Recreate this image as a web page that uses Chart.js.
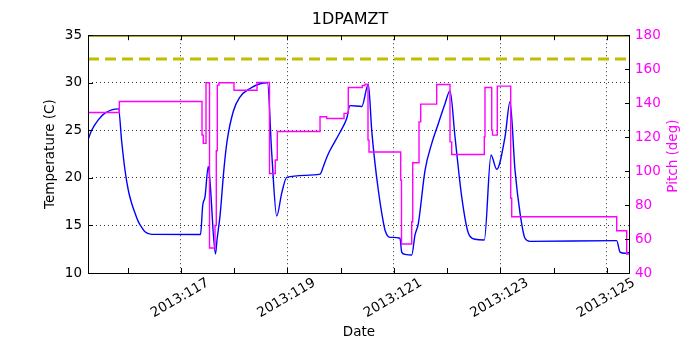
<!DOCTYPE html>
<html>
<head>
<meta charset="utf-8">
<script src="https://cdn.jsdelivr.net/npm/chart.js@4/dist/chart.umd.min.js"></script>
<style>
  body { margin: 0; background: #fff; }
</style>
</head>
<body>
<canvas id="chart" width="700" height="350"></canvas>
<script>
// x values are fractional day-of-year 2013
const xMin = 115.254, xMax = 125.432;
const dayTicks = [116, 117, 118, 119, 120, 121, 122, 123, 124, 125];
const dayLabels = ["", "2013:117", "", "2013:119", "", "2013:121", "", "2013:123", "", "2013:125"];

const tempDays = [115.254, 115.323, 115.447, 115.573, 115.827, 115.887, 115.949, 116.011, 116.075, 116.137,
  116.199, 116.262, 116.324, 116.450,
  117.367, 117.408, 117.451, 117.513, 117.545, 117.648, 117.677, 117.733, 117.808, 117.864, 117.983,
  118.108, 118.296, 118.484, 118.625, 118.704, 118.798, 118.892, 118.986, 119.611, 119.674, 119.737,
  119.799, 119.987, 120.112, 120.174, 120.394, 120.518, 120.582, 120.644, 120.706, 120.770, 120.832,
  120.926, 121.113, 121.145, 121.207, 121.333, 121.395, 121.457, 121.583, 121.708, 121.832, 121.958,
  122.052, 122.146, 122.272, 122.396, 122.521, 122.696, 122.822, 122.929, 123.085, 123.179, 123.273,
  123.367, 123.460, 123.554, 125.182, 125.245, 125.339, 125.432];
const tempValues = [24.0, 25.0, 26.1, 26.8, 27.25, 23.8, 20.8, 18.7, 17.3, 16.3,
  15.4, 14.8, 14.34, 14.06,
  14.05, 17.1, 18.0, 21.2, 19.6, 12.0, 13.5, 16.0, 21.0, 23.8, 27.0,
  28.5, 29.4, 29.9, 30.0, 22.6, 16.0, 18.4, 20.05, 20.4, 21.2, 22.15,
  22.9, 24.8, 26.25, 27.6, 27.5, 29.85, 25.0, 21.5, 18.7, 16.3, 14.5,
  13.75, 13.65, 12.2, 11.96, 11.9, 14.0, 15.2, 20.8, 23.6, 25.7, 27.8,
  29.15, 24.3, 18.0, 14.2, 13.55, 13.47, 22.4, 20.9, 24.3, 28.0, 20.8,
  16.3, 13.65, 13.33, 13.4, 12.2, 12.07, 12.2];

// pitch is a step series: each value holds until the next day value
const pitchDays = [115.254, 115.842, 117.395, 117.419, 117.470, 117.536, 117.639, 117.663, 117.682, 117.714,
  117.996, 118.428, 118.662, 118.771, 118.809, 119.611, 119.737, 120.062, 120.142, 120.405, 120.456,
  120.512, 120.531, 121.126, 121.141, 121.333, 121.352, 121.470, 121.502, 121.802, 122.052, 122.084,
  122.696, 122.709, 122.835, 122.850, 122.940, 123.192, 123.211, 125.182, 125.370, 125.432];
const pitchValues = [134.5, 141.0, 121.2, 116.3, 152.0, 54.7, 68.0, 112.0, 150.6, 152.0,
  147.6, 152.2, 98.6, 106.5, 123.3, 132.0, 131.0, 134.0, 149.2, 150.4, 151.2,
  118.2, 111.2, 94.7, 57.1, 70.2, 104.9, 129.0, 139.4, 151.0, 117.2, 109.8,
  120.2, 149.2, 124.1, 121.2, 150.0, 84.0, 73.1, 64.9, 51.2, 51.2];

const planLimit = 32.5;
const topLimit = 35;

const pts = (xs, ys) => xs.map((x, i) => ({ x: x, y: ys[i] }));

Chart.defaults.font.family = "'DejaVu Sans', sans-serif";
Chart.defaults.color = "#000";

const frame = {
  id: "frame",
  afterDatasetsDraw(chart) {
    const { ctx, chartArea: a, scales } = chart;
    const tl = 5;
    ctx.save();
    ctx.strokeStyle = "#000";
    ctx.lineWidth = 1;
    ctx.strokeRect(a.left + 0.5, a.top + 0.5, a.right - a.left - 1, a.bottom - a.top);
    ctx.beginPath();
    scales.x.ticks.forEach(t => {
      const px = Math.round(scales.x.getPixelForValue(t.value)) + 0.5;
      ctx.moveTo(px, a.bottom); ctx.lineTo(px, a.bottom - tl);
      ctx.moveTo(px, a.top); ctx.lineTo(px, a.top + tl);
    });
    scales.y.ticks.forEach(t => {
      const py = Math.round(scales.y.getPixelForValue(t.value)) + 0.5;
      ctx.moveTo(a.left, py); ctx.lineTo(a.left + tl, py);
    });
    scales.y1.ticks.forEach(t => {
      const py = Math.round(scales.y1.getPixelForValue(t.value)) + 0.5;
      ctx.moveTo(a.right, py); ctx.lineTo(a.right - tl, py);
    });
    ctx.stroke();
    // right axis title, reads bottom to top like the left one
    ctx.fillStyle = "#ff00ff";
    ctx.font = "13.5px 'DejaVu Sans'";
    ctx.textAlign = "center";
    ctx.textBaseline = "middle";
    ctx.translate(673, (a.top + a.bottom) / 2 + 2);
    ctx.rotate(-Math.PI / 2);
    ctx.fillText("Pitch (deg)", 0, 0);
    ctx.restore();
  }
};

new Chart(document.getElementById("chart"), {
  type: "line",
  data: {
    datasets: [
      { label: "Pitch", data: pts(pitchDays, pitchValues), yAxisID: "y1", stepped: true,
        borderColor: "#ff00ff", borderWidth: 1.4, pointRadius: 0, order: 0 },
      { label: "1DPAMZT", data: pts(tempDays, tempValues), yAxisID: "y",
        borderColor: "#0000ff", borderWidth: 1.4, pointRadius: 0, cubicInterpolationMode: "monotone", order: 1 },
      { label: "planning limit", data: pts([xMin, xMax], [planLimit, planLimit]), yAxisID: "y",
        borderColor: "#bfbf00", borderWidth: 3, borderDash: [11, 6], pointRadius: 0, order: 2 },
      { label: "limit", data: pts([xMin, xMax], [topLimit, topLimit]), yAxisID: "y",
        borderColor: "#bfbf00", borderWidth: 3, pointRadius: 0, clip: 0, order: 3 }
    ]
  },
  options: {
    responsive: false,
    animation: false,
    layout: { padding: 0 },
    plugins: {
      legend: { display: false },
      tooltip: { enabled: false },
      title: { display: true, text: "1DPAMZT", color: "#000",
        font: { size: 16, weight: "normal" }, padding: { top: 10, bottom: 6 } }
    },
    scales: {
      x: {
        type: "linear", position: "bottom", min: xMin, max: xMax,
        afterBuildTicks: s => { s.ticks = dayTicks.map(v => ({ value: v })); },
        afterFit: s => { s.height = 77; },
        ticks: {
          autoSkip: false, maxRotation: 30, minRotation: 30, padding: 2, labelOffset: 27,
          font: { size: 13.5 },
          callback: (v) => dayLabels[dayTicks.indexOf(v)] || ""
        },
        grid: {
          drawTicks: false, lineWidth: 1,
          color: c => (c.tick && dayLabels[dayTicks.indexOf(c.tick.value)]) ? "#333" : "rgba(0,0,0,0)"
        },
        border: { display: false, dash: [1, 3] },
        title: { display: true, text: "Date", font: { size: 13.5 }, padding: { bottom: 9 } }
      },
      y: {
        position: "left", min: 10, max: 35,
        afterFit: s => { s.width = 88; },
        ticks: { stepSize: 5, padding: 6, font: { size: 13.5 } },
        grid: { drawTicks: false, color: "#333", lineWidth: 1 },
        border: { display: false, dash: [1, 3] },
        title: { display: true, text: "Temperature (C)", font: { size: 13.5 }, padding: { top: 42 } }
      },
      y1: {
        position: "right", min: 40, max: 180,
        afterFit: s => { s.width = 70; },
        ticks: { stepSize: 20, padding: 5, color: "#ff00ff", font: { size: 13.5 } },
        grid: { display: false, drawTicks: false },
        border: { display: false }
      }
    }
  },
  plugins: [frame]
});
</script>
</body>
</html>
